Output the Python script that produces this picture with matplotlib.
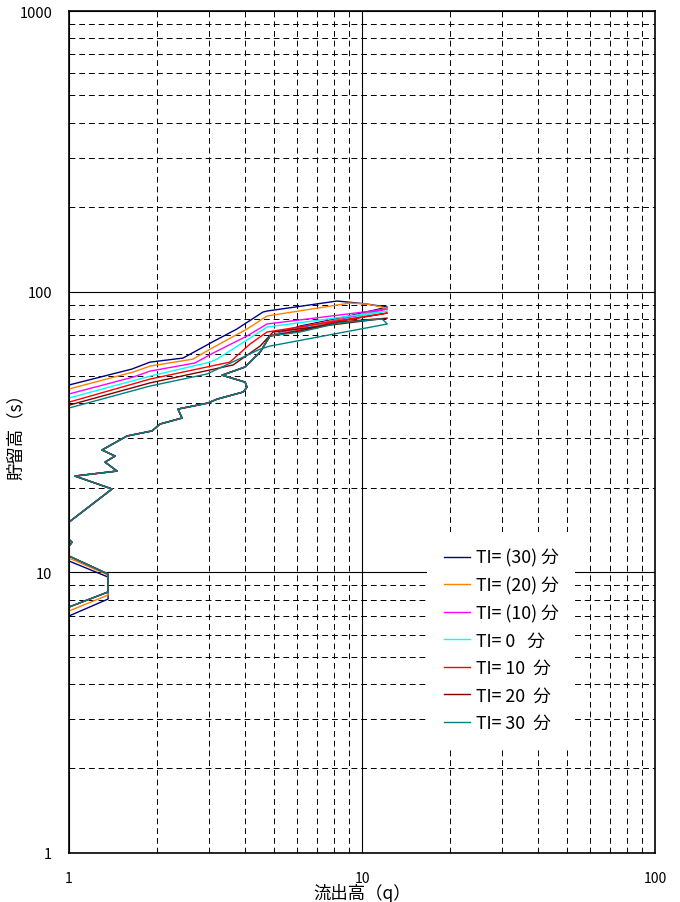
import matplotlib

matplotlib.use("Agg")
import matplotlib.pyplot as plt
from matplotlib.ticker import LogLocator, NullFormatter

plt.rcParams["font.family"] = ["Noto Sans CJK JP", "DejaVu Sans"]

LABELS = ["TI= (30) 分", "TI= (20) 分", "TI= (10) 分", "TI= 0   分",
          "TI= 10  分", "TI= 20  分", "TI= 30  分"]
COLORS = ["#000080", "#ff8000", "#ff00ff", "#00ffff", "#ff0000", "#800000", "#008080"]

# q = outflow (x), s = storage (y)
# bottom of the rising limb, slightly different per series
BOTTOM_Q = [1.0, 1.359, 1.359, 1.0]
BOTTOM_S = [
    [6.99, 8.03, 9.62, 10.97],
    [7.28, 8.30, 9.78, 11.24],
    [7.52, 8.51, 9.86, 11.43],
    [7.52, 8.51, 9.86, 11.43],
    [7.52, 8.51, 9.86, 11.43],
    [7.52, 8.51, 9.86, 11.43],
    [7.52, 8.51, 9.86, 11.43],
]

# zigzag part of the rising limb, common to all series
ZIG_Q = [0.97, 1.024, 0.96, 0.932, 1.402, 1.048, 1.458, 1.327, 1.436, 1.296, 1.577,
         1.92, 2.045, 2.43, 2.355, 2.98, 3.20, 3.93, 4.05, 3.99, 3.33, 3.99, 4.49, 4.85]
ZIG_S = [11.9, 12.8, 13.6, 14.27, 19.81, 22.03, 22.95, 24.7, 25.96, 27.28, 30.6,
         31.9, 33.76, 35.45, 38.17, 40.1, 41.4, 43.9, 45.7, 47.6, 50.4, 53.9, 60.9, 69.5]

# top of rising limb -> peak -> falling limb back to q = 1
TOP_Q = [
    [6.14, 8.41, 12.2, 10.4, 8.89, 8.22, 4.74, 4.59, 3.74, 3.08, 2.45, 1.89, 1.64, 1.0],
    [6.14, 8.41, 12.2, 10.4, 9.10, 4.74, 4.05, 3.03, 2.65, 1.89, 1.654, 1.0],
    [6.14, 8.41, 12.2, 4.74, 4.05, 3.10, 2.69, 1.89, 1.654, 1.0],
    [6.14, 8.41, 12.2, 4.74, 3.20, 3.03, 1.89, 1.0],
    [6.14, 8.41, 12.2, 4.74, 4.15, 3.54, 1.89, 1.0],
    [6.14, 8.41, 12.2, 4.97, 4.49, 3.63, 1.89, 1.0],
    [6.14, 8.41, 11.7, 12.2, 4.85, 4.49, 2.96, 1.89, 1.0],
]
TOP_S = [
    [75.4, 80.5, 88.1, 90.3, 91.9, 92.6, 85.3, 84.6, 73.6, 66.1, 58.0, 56.1, 53.0, 46.5],
    [74.8, 80.0, 87.4, 90.3, 91.1, 81.9, 73.6, 62.4, 57.5, 54.3, 51.7, 45.0],
    [74.2, 79.5, 86.7, 76.7, 69.5, 60.4, 55.7, 52.1, 49.6, 43.2],
    [73.6, 79.0, 85.3, 74.8, 57.5, 56.1, 50.0, 41.8],
    [73.0, 78.5, 83.9, 71.8, 65.1, 56.1, 48.8, 40.4],
    [72.4, 78.0, 80.5, 71.8, 64.0, 54.8, 47.3, 39.4],
    [71.8, 77.5, 80.0, 76.7, 64.0, 62.4, 50.9, 46.1, 38.5],
]

fig = plt.figure(figsize=(6.8, 9.03), dpi=100)
ax = fig.add_axes([0.1015, 0.0543, 0.8618, 0.9324])

for k in range(len(LABELS)):
    q = BOTTOM_Q + ZIG_Q + TOP_Q[k]
    s = BOTTOM_S[k] + ZIG_S + TOP_S[k]
    ax.plot(q, s, color=COLORS[k], lw=1.0, label=LABELS[k])

ax.set_xscale("log")
ax.set_yscale("log")
ax.set_xlim(1, 100)
ax.set_ylim(1, 1000)
ax.set_xticks([1, 10, 100], ["1", "10", "100"])
ax.set_yticks([1, 10, 100, 1000], ["1", "10", "100", "1000"])
ax.xaxis.set_minor_locator(LogLocator(subs=range(2, 10)))
ax.yaxis.set_minor_locator(LogLocator(subs=range(2, 10)))
ax.xaxis.set_minor_formatter(NullFormatter())
ax.yaxis.set_minor_formatter(NullFormatter())
ax.tick_params(which="both", length=0)
ax.tick_params(axis="x", pad=13, labelsize=10)
ax.tick_params(axis="y", pad=12, labelsize=10.5)

ax.grid(which="major", color="black", lw=0.8, ls="-")
ax.grid(which="minor", color="black", lw=0.7, ls=(0, (6, 4)))
ax.set_axisbelow(True)
for sp in ax.spines.values():
    sp.set_linewidth(1.2)

ax.set_xlabel("流出高（q）", fontsize=12.5)
ax.xaxis.set_label_coords(0.5, -0.036)
ax.set_ylabel("貯留高（s）", fontsize=12.5)
ax.yaxis.set_label_coords(-0.075, 0.5)

leg = ax.legend(loc="upper left", bbox_to_anchor=(0.611, 0.381), fontsize=12.8,
                frameon=True, facecolor="white", edgecolor="none", framealpha=1,
                fancybox=False, handlelength=1.5, handletextpad=0.3,
                labelspacing=0.53, borderpad=0.93, borderaxespad=0)

fig.savefig("out.png", dpi=100)
